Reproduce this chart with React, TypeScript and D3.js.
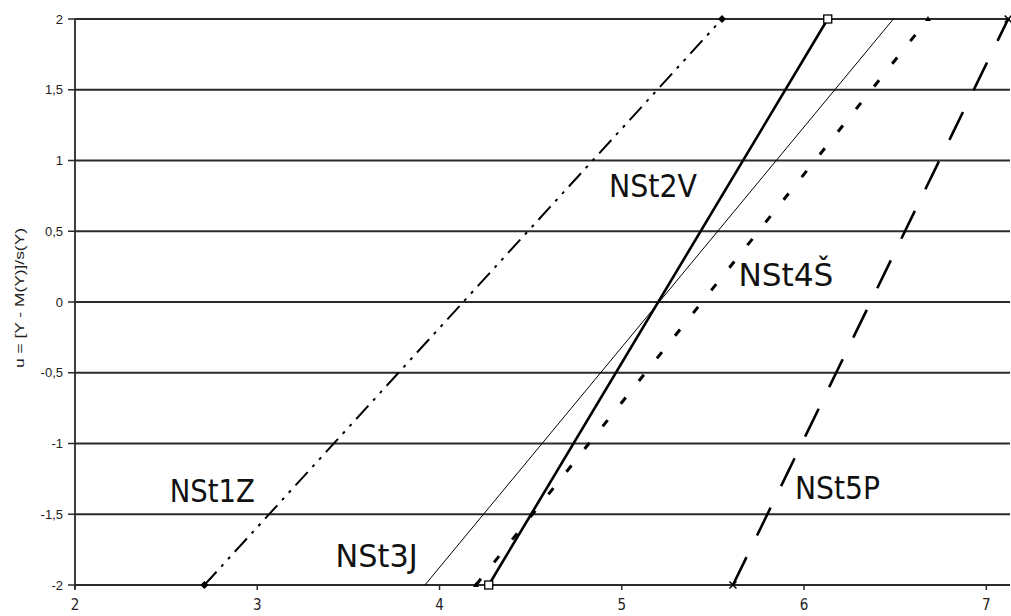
import React from "react";
import * as d3 from "d3";

// ---- data ----
const seriesNames = ["NSt1Z", "NSt2V", "NSt3J", "NSt4Š", "NSt5P"];
const uPoints = [-2, 2];
const xAtUMinus2 = [2.71, 4.27, 3.92, 4.2, 5.61];
const xAtUPlus2 = [5.55, 6.13, 6.49, 6.68, 7.12];
const yTicks = [-2, -1.5, -1, -0.5, 0, 0.5, 1, 1.5, 2];
const xTicks = [2, 3, 4, 5, 6, 7];
const labelX = [2.52, 4.93, 3.43, 5.64, 5.95];
const labelU = [-1.41, 0.74, -1.87, 0.11, -1.39];
const yTitle = "u = [Y - M(Y)]/s(Y)";

const W = 1011;
const H = 616;

const styles = [
  { width: 2, dash: "18,7,3,7,3,7", marker: "diamond" },
  { width: 2.6, dash: "", marker: "square" },
  { width: 1, dash: "", marker: "none" },
  { width: 3, dash: "8,21", marker: "tri" },
  { width: 2.6, dash: "31,24", marker: "x" },
];
const labelWidths = [85, 88, 82, 95, 85];

export default function App() {
  const x = d3.scaleLinear().domain([2, 7.13]).range([75, 1010]);
  const y = d3.scaleLinear().domain([-2, 2]).range([585, 19]);
  const line = d3
    .line<[number, number]>()
    .x((d) => x(d[0]))
    .y((d) => y(d[1]));
  const fmt = (v: number) => String(v).replace(".", ",");

  const marker = (kind: string, cx: number, cy: number, key: string) => {
    if (kind === "diamond") {
      const s = 4;
      return (
        <path key={key} d={`M${cx},${cy - s}L${cx + s},${cy}L${cx},${cy + s}L${cx - s},${cy}Z`} fill="#000" />
      );
    }
    if (kind === "square") {
      return <rect key={key} x={cx - 4} y={cy - 4} width={8} height={8} fill="#fff" stroke="#000" strokeWidth={1.3} />;
    }
    if (kind === "tri") {
      return <path key={key} d={`M${cx},${cy - 3}L${cx + 3},${cy + 2}L${cx - 3},${cy + 2}Z`} fill="#000" />;
    }
    if (kind === "x") {
      const s = 3.5;
      return (
        <path key={key} d={`M${cx - s},${cy - s}L${cx + s},${cy + s}M${cx - s},${cy + s}L${cx + s},${cy - s}`} stroke="#000" strokeWidth={1.5} />
      );
    }
    return null;
  };

  return (
    <svg width={W} height={H} style={{ position: "absolute", left: 0, top: 0, background: "#fff" }}>
      <rect x={0} y={0} width={W} height={H} fill="#fff" />
      {/* gridlines */}
      {yTicks.map((t) => (
        <g key={"g" + t}>
          <line x1={x(2)} x2={x(7.13)} y1={y(t)} y2={y(t)} stroke="#2a2a2a" strokeWidth={1.8} />
          <line x1={x(2) - 7} x2={x(2)} y1={y(t)} y2={y(t)} stroke="#2a2a2a" strokeWidth={1.5} />
          <text
            x={63}
            y={y(t)}
            dy="0.36em"
            textAnchor="end"
            fontFamily="Liberation Sans, Arial, sans-serif"
            fontSize={13}
            fill="#222"
          >
            {fmt(t)}
          </text>
        </g>
      ))}
      {/* y axis */}
      <line x1={x(2)} x2={x(2)} y1={y(2)} y2={y(-2) + 4} stroke="#2a2a2a" strokeWidth={1.8} />
      {/* x ticks */}
      {xTicks.map((t) => (
        <g key={"x" + t}>
          <line x1={x(t)} x2={x(t)} y1={y(-2)} y2={y(-2) + 5} stroke="#2a2a2a" strokeWidth={1.5} />
          <text
            x={x(t)}
            y={610}
            textAnchor="middle"
            fontFamily="Liberation Sans Narrow, DejaVu Sans Condensed, sans-serif"
            fontSize={15}
            fill="#222"
          >
            {t}
          </text>
        </g>
      ))}
      {/* y title */}
      <text
        transform={`translate(24,${298}) rotate(-90)`}
        textAnchor="middle"
        fontFamily="Liberation Sans, Arial, sans-serif"
        fontSize={13}
        textLength={140}
        lengthAdjust="spacingAndGlyphs"
        fill="#222"
      >
        {yTitle}
      </text>
      {/* series */}
      {seriesNames.map((n, i) => {
        const pts: [number, number][] = uPoints.map((u, k) => [k === 0 ? xAtUMinus2[i] : xAtUPlus2[i], u]);
        const st = styles[i];
        return (
          <g key={n}>
            <path
              d={line(pts) || ""}
              fill="none"
              stroke="#000"
              strokeWidth={st.width}
              strokeDasharray={st.dash || undefined}
            />
            {pts.map((p, k) => marker(st.marker, x(p[0]), y(p[1]), n + k))}
          </g>
        );
      })}
      {/* labels */}
      {seriesNames.map((n, i) => (
        <text
          key={"l" + n}
          x={x(labelX[i])}
          y={y(labelU[i])}
          fontFamily="DejaVu Sans Condensed, DejaVu Sans, sans-serif"
          fontSize={32}
          textLength={labelWidths[i]}
          lengthAdjust="spacingAndGlyphs"
          fill="#111"
        >
          {n}
        </text>
      ))}
    </svg>
  );
}
